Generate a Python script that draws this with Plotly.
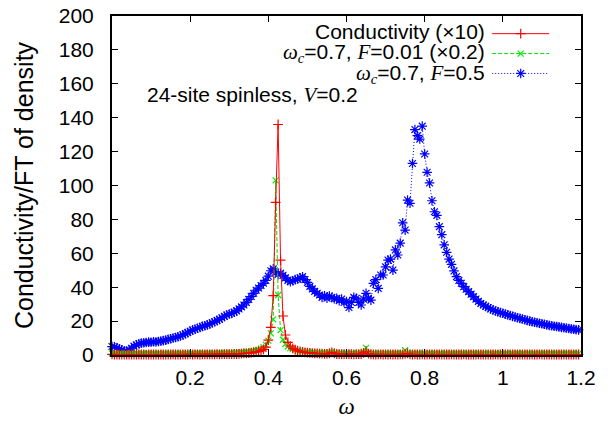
import numpy as np
import plotly.graph_objects as go

# frequency grid step (omega)
step = 0.00625

# Conductivity (x10)
red = [
    0.4, 0.3, 0.3, 0.2, 0.3, 0.3, 0.2, 0.3, 0.3, 0.3,
    0.2, 0.3, 0.3, 0.3, 0.2, 0.3, 0.3, 0.3, 0.3, 0.2,
    0.3, 0.3, 0.3, 0.3, 0.3, 0.4, 0.3, 0.3, 0.3, 0.4,
    0.3, 0.3, 0.4, 0.3, 0.4, 0.4, 0.3, 0.4, 0.4, 0.4,
    0.4, 0.4, 0.4, 0.5, 0.4, 0.5, 0.5, 0.5,
    0.5, 0.5, 0.6, 0.6, 0.7, 0.8, 0.9, 1.0, 1.1, 1.3, 1.5, 1.8, 2.1, 2.6, 3.3, 4.6,
    8.8, 16.3, 35.0, 90.0, 136.0, 56.0, 23.0, 11.8, 7.5,
    5.2, 3.9, 3.1, 2.5, 2.1, 1.8, 1.6, 1.4, 1.2, 1.1, 1.0, 0.9, 0.8, 0.8, 0.7, 0.7, 1.0, 1.6, 0.9, 0.6,
    0.5, 0.5, 0.5, 0.6, 0.5, 0.5, 0.4, 0.5, 0.5, 0.5,
    1.2, 2.2, 0.8,
    0.4, 0.4, 0.3, 0.4, 0.4, 0.3, 0.4, 0.3, 0.4, 0.3, 0.4, 0.3, 0.4, 0.4, 0.7, 1.0,
    0.4, 0.3, 0.4, 0.3, 0.3, 0.4, 0.3, 0.3, 0.4, 0.3, 0.3, 0.3, 0.4, 0.3, 0.3, 0.3,
    0.3, 0.4, 0.3, 0.3, 0.3, 0.3, 0.4, 0.3, 0.3, 0.3, 0.3, 0.3, 0.4, 0.3, 0.3, 0.3,
    0.3, 0.3, 0.3, 0.4, 0.3, 0.3, 0.3, 0.3, 0.3, 0.3, 0.3, 0.4, 0.3, 0.3, 0.3, 0.3,
    0.3, 0.3, 0.3, 0.3, 0.3, 0.4, 0.3, 0.3, 0.3, 0.3, 0.3, 0.3, 0.3, 0.3, 0.3, 0.3,
    0.3, 0.3, 0.3, 0.3, 0.3, 0.3, 0.3,
]

# omega_c=0.7, F=0.01 (x0.2)
green = [
    0.9, 1.0, 0.9, 0.9, 1.0, 0.9, 0.9, 1.0, 0.9, 0.9,
    1.0, 0.9, 0.9, 1.0, 0.9, 1.0, 0.9, 0.9, 1.0, 0.9,
    1.0, 0.9, 1.0, 1.0, 0.9, 1.0, 1.0, 0.9, 1.0, 1.0,
    1.0, 1.0, 1.0, 1.1, 1.0, 1.0, 1.1, 1.0, 1.1, 1.1,
    1.1, 1.1, 1.1, 1.2, 1.1, 1.2, 1.2, 1.2,
    1.2, 1.3, 1.3, 1.4, 1.5, 1.6, 1.7, 1.9, 2.0, 2.2, 2.5, 2.8, 3.2, 3.8, 4.6, 6.0,
    8.5, 12.8, 21.0, 103.0, 35.4, 14.7, 9.0, 6.5, 5.0,
    4.1, 3.5, 3.0, 2.6, 2.4, 2.1, 2.0, 1.8, 1.7, 1.6, 1.5, 1.4, 1.3, 1.3, 1.2, 1.2, 1.5, 2.0, 1.2, 1.1,
    1.1, 1.1, 1.0, 1.1, 1.1, 1.0, 1.1, 1.0, 1.1, 1.2,
    2.0, 4.2, 1.5,
    1.0, 1.0, 0.9, 1.0, 1.0, 0.9, 1.0, 1.0, 0.9, 1.0, 1.0, 0.9, 1.0, 1.0,
    2.8, 1.2, 1.0,
    0.9, 1.0, 0.9, 0.9, 1.0, 0.9, 0.9, 1.0, 0.9, 0.9, 1.0, 0.9, 0.9, 0.9,
    1.0, 0.9, 0.9, 1.0, 0.9, 0.9, 0.9, 1.0, 0.9, 0.9, 0.9, 1.0, 0.9, 0.9,
    0.9, 1.0, 0.9, 0.9, 0.9, 0.9, 1.0, 0.9, 0.9, 0.9, 1.0, 0.9, 0.9, 0.9,
    0.9, 0.9, 1.0, 0.9, 0.9, 0.9, 0.9, 1.0, 0.9, 0.9, 0.9, 0.9, 0.9, 1.0,
    0.9, 0.9, 0.9, 0.9, 1.0, 0.9, 0.9, 0.9, 0.9, 0.9, 0.9, 1.0, 0.9, 0.9,
]

# omega_c=0.7, F=0.5
blue = [
    5.0, 4.8, 4.2, 3.6, 3.0, 2.4, 2.3, 2.8, 4.0, 5.2,
    6.0, 6.6, 7.0, 7.2, 7.4, 7.6, 7.5, 7.8, 7.7, 8.0,
    8.2, 8.5, 8.8, 9.2, 9.6, 10.0, 10.3, 10.8, 11.2, 11.9,
    12.6, 13.2, 14.0, 14.8, 15.2, 15.8, 16.2, 16.9, 17.3, 17.8,
    18.3, 19.0, 19.6, 20.4, 21.0, 22.0, 22.8, 23.6, 24.2, 24.5,
    25.3, 26.0, 27.2, 28.4, 29.5, 31.0, 32.8, 34.5, 36.4, 38.2,
    39.5, 41.0, 42.3, 44.0, 46.5, 49.7, 50.8, 49.0, 47.5, 48.2,
    47.0, 45.5, 44.0, 43.3, 43.8, 44.5, 44.8, 45.5, 46.2, 44.5,
    42.8, 40.5, 39.0, 37.5, 36.4, 35.4, 34.0, 35.0, 33.5, 34.8,
    34.0, 33.2, 33.4, 32.0, 33.0, 31.0, 31.5, 28.0, 31.0, 34.0,
    33.5, 31.0, 29.5, 33.0, 36.4, 33.5, 32.4, 42.3, 44.5, 39.3,
    47.2, 47.2, 52.0, 56.0, 56.6, 50.1, 62.0, 59.0, 66.0, 78.0,
    73.7, 91.4, 89.5, 113.0, 133.0, 129.4, 127.4, 135.0, 118.6, 107.8,
    101.5, 91.0, 84.5, 82.4, 75.7, 71.0, 65.0, 60.6, 56.6, 53.5,
    49.6, 46.2, 44.0, 42.3, 40.3, 38.8, 37.4, 35.9, 34.4, 33.0,
    31.6, 30.4, 29.5, 28.7, 28.0, 27.2, 26.6, 26.0, 25.5, 25.0,
    24.6, 24.1, 23.7, 23.3, 22.8, 22.4, 22.0, 21.6, 21.2, 20.8,
    20.4, 20.0, 19.6, 19.3, 19.0, 18.7, 18.4, 18.1, 17.8, 17.5,
    17.3, 17.0, 16.8, 16.6, 16.3, 16.1, 15.9, 15.6, 15.4, 15.2,
    15.0, 14.8, 14.6,
]

x_tickvals = [0.2, 0.4, 0.6, 0.8, 1.0, 1.2]
x_ticktext = ["0.2", "0.4", "0.6", "0.8", "1", "1.2"]
y_tickvals = [0, 20, 40, 60, 80, 100, 120, 140, 160, 180, 200]

SERIF = "Liberation Serif, Times New Roman, serif"
SANS = "Liberation Sans, Arial, Helvetica, sans-serif"


def grid(vals):
    return np.arange(len(vals)) * step


fig = go.Figure()

fig.add_trace(go.Scatter(
    x=grid(blue), y=blue, mode="lines+markers", name="", legendrank=3,
    line=dict(color="#0000ff", width=1, dash="1px,2px"),
    marker=dict(symbol="asterisk", size=8, color="#0000ff",
                line=dict(color="#0000ff", width=1.2)),
    cliponaxis=False,
))
fig.add_trace(go.Scatter(
    x=grid(green), y=green, mode="lines+markers", name="", legendrank=2,
    line=dict(color="#00e000", width=1, dash="4px,2px"),
    marker=dict(symbol="x-thin", size=6, color="#00ee00",
                line=dict(color="#00ee00", width=1.2)),
    cliponaxis=False,
))
fig.add_trace(go.Scatter(
    x=grid(red), y=red, mode="lines+markers", name="", legendrank=1,
    line=dict(color="#ff0000", width=1),
    marker=dict(symbol="cross-thin", size=7, color="#ff0000",
                line=dict(color="#ff0000", width=1.2)),
    cliponaxis=False,
))

axis_common = dict(
    showline=True, linecolor="black", linewidth=2, mirror="allticks",
    ticks="inside", ticklen=6, tickwidth=1, tickcolor="black",
    showgrid=False, zeroline=False, automargin=False,
    ticklabeloverflow="allow",
)

# the page places the figure 8px in from the top-left corner
fig.update_layout(
    width=605, height=413,
    margin=dict(l=104, r=32, t=8, b=66, autoexpand=False),
    plot_bgcolor="white", paper_bgcolor="white",
    font=dict(family=SANS, size=21, color="black"),
    showlegend=True,
    legend=dict(x=0.80, y=0.992, xanchor="left", yanchor="top",
                bgcolor="rgba(0,0,0,0)", font=dict(size=13),
                itemwidth=57, tracegroupgap=0),
    xaxis=dict(range=[0, 1.2], tickvals=x_tickvals, ticktext=x_ticktext,
               ticklabelstandoff=3,
               title=dict(text="<i>ω</i>", font=dict(family=SERIF, size=23), standoff=10),
               **axis_common),
    yaxis=dict(range=[0, 200], tickvals=y_tickvals, ticklabelstandoff=12,
               title=dict(text="Conductivity/FT of density", standoff=18),
               **axis_common),
)

def serif_it(s):
    return f'<span style="font-family:{SERIF}"><i>{s}</i></span>'

legend_texts = [
    "Conductivity (×10)",
    f"{serif_it('ω')}<sub>{serif_it('c')}</sub>=0.7, {serif_it('F')}=0.01 (×0.2)",
    f"{serif_it('ω')}<sub>{serif_it('c')}</sub>=0.7, {serif_it('F')}=0.5",
]
legend_y = [0.954, 0.892, 0.830]
for t, yy in zip(legend_texts, legend_y):
    fig.add_annotation(text=t, xref="paper", yref="paper", x=0.800, y=yy,
                       xanchor="right", yanchor="middle", showarrow=False,
                       font=dict(size=21))

fig.add_annotation(text=f"24-site spinless, {serif_it('V')}=0.2",
                   xref="paper", yref="paper", x=0.30, y=0.767,
                   xanchor="center", yanchor="middle", showarrow=False,
                   font=dict(size=21))

fig.write_html("out.html")
